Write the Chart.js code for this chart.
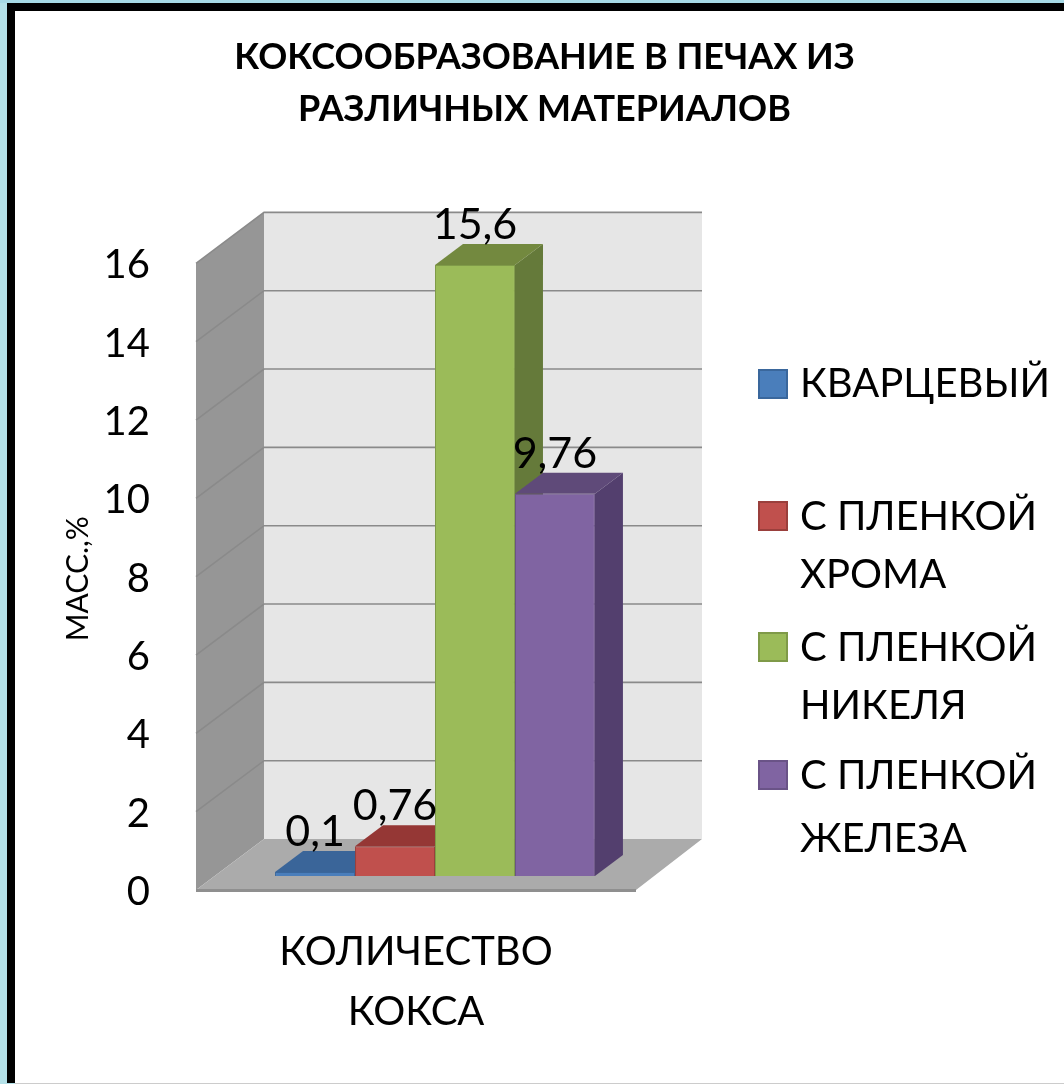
<!DOCTYPE html>
<html lang="ru">
<head>
<meta charset="utf-8">
<title>Коксообразование</title>
<style>
  html, body { margin: 0; padding: 0; width: 1064px; height: 1084px; overflow: hidden; background: #b4e1e8; }
  #frame { position: absolute; left: 7px; top: 3px; width: 1057px; height: 1080px; background: #000; }
  #paper { position: absolute; left: 15px; top: 11px; width: 1049px; height: 1072px; background: #fff; border-bottom: 1px solid #ccc; }
  #topband { position: absolute; left: 0; top: 0; width: 1064px; height: 3px; background: #a6d9e5; }
  canvas { position: absolute; left: 0; top: 0; }
</style>
<script src="https://cdn.jsdelivr.net/npm/chart.js@4/dist/chart.umd.min.js"></script>
</head>
<body>
<div id="topband"></div><div id="frame"></div><div id="paper"></div>
<canvas id="c" width="1064" height="1084"></canvas>
<script>
const categories = [['КОЛИЧЕСТВО', 'КОКСА']];
const kvartsevy = [0.1];
const khrom = [0.76];
const nikel = [15.6];
const zhelezo = [9.76];
const seriesNames = [['КВАРЦЕВЫЙ'], ['С ПЛЕНКОЙ', 'ХРОМА'], ['С ПЛЕНКОЙ', 'НИКЕЛЯ'], ['С ПЛЕНКОЙ', 'ЖЕЛЕЗА']];
const valueLabels = ['0,1', '0,76', '15,6', '9,76'];
const chartTitle = ['КОКСООБРАЗОВАНИЕ В ПЕЧАХ ИЗ', 'РАЗЛИЧНЫХ МАТЕРИАЛОВ'];
const axisTitle = 'МАСС.,%';

const fontFamily = 'Lato, "Open Sans", sans-serif';
const PLOT = { left: 196, right: 636, top: 265, bottom: 892 };
const WALL = { dx: 68, dy: -51, lift: -2 };  // depth of the room; room sits just above the label line
const BAR_SHIFT = { x: 19, y: -16 };         // bars stand inside the room
const BAR_DEPTH = { dx: 28, dy: -21 };
const COLORS = [
  { front: '#4a7ebb', edge: '#3a679c', top: '#3a6599', side: '#2f5480' },
  { front: '#c0504d', edge: '#9a3f3c', top: '#953735', side: '#7d2e2c' },
  { front: '#9bbb59', edge: '#7f9a48', top: '#73893f', side: '#657a3a' },
  { front: '#8064a2', edge: '#6a5387', top: '#5f4a79', side: '#533f6e' }
];
const LEGEND_ROWS = [{ swatch: 370, lines: [397] }, { swatch: 502, lines: [530, 588] }, { swatch: 633, lines: [661, 719] }, { swatch: 761, lines: [789, 852] }];

function poly(ctx, pts, fill, stroke) {
  ctx.beginPath();
  pts.forEach((p, i) => i ? ctx.lineTo(p[0], p[1]) : ctx.moveTo(p[0], p[1]));
  ctx.closePath();
  ctx.fillStyle = fill;
  ctx.fill();
  if (stroke) { ctx.strokeStyle = stroke; ctx.lineWidth = 1; ctx.stroke(); }
}

const room3d = {
  id: 'room3d',
  beforeDatasetsDraw(chart) {
    const { ctx, scales: { x, y } } = chart;
    const d = WALL;
    const l = x.left, r = x.right, t = y.getPixelForValue(16) + d.lift, b = y.getPixelForValue(0) + d.lift;
    poly(ctx, [[l + d.dx, t + d.dy], [r + d.dx - 2, t + d.dy], [r + d.dx - 2, b + d.dy], [l + d.dx, b + d.dy]], '#e6e6e6');
    poly(ctx, [[l, t], [l + d.dx, t + d.dy], [l + d.dx, b + d.dy], [l, b]], '#969696');
    poly(ctx, [[l, b], [l + d.dx, b + d.dy], [r + d.dx - 2, b + d.dy], [r, b]], '#ababab');
    ctx.fillStyle = '#8f8f8f';
    ctx.fillRect(l, b - 1, r - l, 3);
    ctx.lineWidth = 1.6;
    y.ticks.forEach(tick => {
      const py = y.getPixelForValue(tick.value) + d.lift;
      if (tick.value > 0) {
        ctx.strokeStyle = '#8a8a8a';
        ctx.beginPath();
        ctx.moveTo(l, py);
        ctx.lineTo(l + d.dx, py + d.dy);
        ctx.lineTo(r + d.dx - 2, py + d.dy);
        ctx.stroke();
      }
    });
  },
  beforeDatasetDraw() {
    return false;   // painted front to back in afterDatasetsDraw, left bar first
  },
  afterDatasetsDraw(chart) {
    const { ctx } = chart;
    const d = BAR_DEPTH;
    valueLabels.forEach((_, i) => {
      const el = chart.getDatasetMeta(i).data[0];
      const c = COLORS[i];
      const L = el.x - el.width / 2 + BAR_SHIFT.x, R = el.x + el.width / 2 + BAR_SHIFT.x;
      const T = el.y + BAR_SHIFT.y, B = el.base + BAR_SHIFT.y;
      poly(ctx, [[R, T], [R + d.dx, T + d.dy], [R + d.dx, B + d.dy], [R, B]], c.side);
      poly(ctx, [[L, T], [L + d.dx, T + d.dy], [R + d.dx, T + d.dy], [R, T]], c.top);
      ctx.save();
      ctx.translate(BAR_SHIFT.x, BAR_SHIFT.y);
      el.draw(ctx);
      ctx.restore();
    });
    ctx.fillStyle = '#000';
    ctx.font = '43px ' + fontFamily;
    ctx.textAlign = 'center';
    ctx.textBaseline = 'middle';
    valueLabels.forEach((txt, i) => {
      const el = chart.getDatasetMeta(i).data[0];
      ctx.fillText(txt, el.x + BAR_SHIFT.x, el.y + BAR_SHIFT.y + BAR_DEPTH.dy - 19);
    });
    LEGEND_ROWS.forEach((row, i) => {
      ctx.fillStyle = COLORS[i].front;
      ctx.strokeStyle = COLORS[i].edge;
      ctx.lineWidth = 2;
      ctx.fillRect(759, row.swatch, 28, 28);
      ctx.strokeRect(759, row.swatch, 28, 28);
      ctx.fillStyle = '#000';
      ctx.font = '40px ' + fontFamily;
      ctx.textAlign = 'left';
      ctx.textBaseline = 'alphabetic';
      seriesNames[i].forEach((line, j) => ctx.fillText(line, 800, row.lines[j]));
    });
  }
};

const seriesData = [kvartsevy, khrom, nikel, zhelezo];
new Chart(document.getElementById('c'), {
  type: 'bar',
  data: {
    labels: categories,
    datasets: seriesData.map((data, i) => ({
      label: seriesNames[i].join(' '),
      data,
      backgroundColor: COLORS[i].front,
      borderColor: COLORS[i].edge,
      borderWidth: 1
    }))
  },
  plugins: [room3d],
  options: {
    responsive: false,
    animation: false,
    devicePixelRatio: 1,
    layout: { padding: { left: 25, right: 0, top: 0, bottom: 0 } },
    categoryPercentage: 0.727,
    barPercentage: 1,
    plugins: {
      legend: { display: false },
      tooltip: { enabled: false },
      title: {
        display: true,
        text: chartTitle,
        color: '#000',
        font: { family: fontFamily, size: 36, weight: 'bold', lineHeight: 1.45 },
        padding: { top: 31, bottom: 130 }
      }
    },
    scales: {
      x: {
        position: 'bottom',
        grid: { display: false, drawTicks: false },
        border: { display: false },
        ticks: { color: '#000', padding: 30, maxRotation: 0, font: { family: fontFamily, size: 40, lineHeight: 1.5 } },
        afterFit(s) { s.height = 1084 - PLOT.bottom; }
      },
      y: {
        min: 0, max: 16,
        position: 'left',
        grid: { display: false, drawTicks: false },
        border: { display: false },
        ticks: { stepSize: 2, color: '#000', padding: 46, font: { family: fontFamily, size: 40 }, callback: v => String(v) },
        title: { display: true, text: axisTitle, color: '#000', font: { family: fontFamily, size: 30, lineHeight: 1.2 }, padding: { top: 35, bottom: 0 } },
        afterFit(s) { s.width = PLOT.left - 25; }
      },
      spacer: {
        position: 'right',
        grid: { display: false, drawTicks: false },
        border: { display: false },
        ticks: { display: false },
        afterFit(s) { s.width = 1064 - PLOT.right; }
      }
    }
  }
});
</script>
</body>
</html>
